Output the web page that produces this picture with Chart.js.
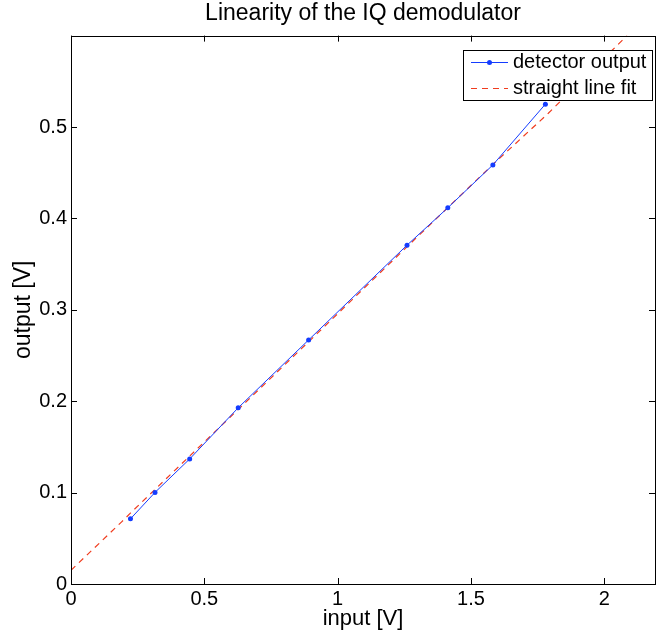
<!DOCTYPE html>
<html><head><meta charset="utf-8">
<script src="https://cdn.jsdelivr.net/npm/chart.js@4/dist/chart.umd.min.js"></script>
<style>html,body{margin:0;padding:0;background:#fff}#wrap{width:659px;height:634px;position:relative}</style>
</head><body><div id="wrap"><canvas id="c"></canvas></div>
<script>
const chartTitle = 'Linearity of the IQ demodulator';
const xAxisLabel = 'input [V]';
const yAxisLabel = 'output [V]';
const seriesNames = ['detector output', 'straight line fit'];
const inputV  = [0.223, 0.315, 0.445, 0.627, 0.891, 1.260, 1.413, 1.582, 1.779];
const outputV = [0.0713, 0.1002, 0.1368, 0.1928, 0.2670, 0.3707, 0.4116, 0.4585, 0.5250];
const fitX = [0, 0.19, 0.2227, 0.445, 0.891, 1.260, 1.582, 1.790, 2.085];
const fitY = [0.0150, 0.0680, 0.0775, 0.1400, 0.2650, 0.3690, 0.4590, 0.5150, 0.6000];
const xTicks = [0, 0.5, 1, 1.5, 2];
const yTicks = [0, 0.1, 0.2, 0.3, 0.4, 0.5];
const xRange = [0, 2.19];
const yRange = [0, 0.6];

const FONT = "'Liberation Sans', Arial, Helvetica, sans-serif";
const BLUE = 'rgb(20,60,255)';
const RED = 'rgb(240,60,30)';

const pts = (xs, ys) => xs.map((x, i) => ({x, y: ys[i]}));

const frame = {
  id: 'frame',
  afterDraw(chart) {
    const {ctx, chartArea: a, scales} = chart;
    ctx.save();
    ctx.strokeStyle = '#000';
    ctx.lineWidth = 1;
    ctx.beginPath();
    const TL = 6;
    scales.x.ticks.forEach(t => {
      const px = Math.round(scales.x.getPixelForValue(t.value)) + 0.5;
      ctx.moveTo(px, a.bottom); ctx.lineTo(px, a.bottom - TL);
      ctx.moveTo(px, a.top); ctx.lineTo(px, a.top + TL);
    });
    scales.y.ticks.forEach(t => {
      const py = Math.round(scales.y.getPixelForValue(t.value)) + 0.5;
      ctx.moveTo(a.left, py); ctx.lineTo(a.left + TL, py);
      ctx.moveTo(a.right, py); ctx.lineTo(a.right - TL, py);
    });
    ctx.stroke();
    ctx.strokeRect(Math.round(a.left) + 0.5, Math.round(a.top) + 0.5,
                   Math.round(a.right - a.left), Math.round(a.bottom - a.top));

    // legend
    const L = 463.5, T = 50.5, W = 189, H = 50;
    ctx.fillStyle = '#fff';
    ctx.fillRect(L, T, W, H);
    ctx.strokeRect(L, T, W, H);
    const rows = [62, 88];
    chart.data.datasets.forEach((ds, i) => {
      const y = rows[i] + 0.5;
      ctx.save();
      ctx.strokeStyle = ds.borderColor;
      ctx.lineWidth = 1;
      ctx.setLineDash(ds.borderDash || []);
      ctx.beginPath(); ctx.moveTo(471, y); ctx.lineTo(508, y); ctx.stroke();
      ctx.restore();
      if (ds.pointRadius > 0) {
        ctx.fillStyle = ds.pointBackgroundColor;
        ctx.beginPath(); ctx.arc(489.5, y, 2.5, 0, Math.PI * 2); ctx.fill();
      }
      ctx.fillStyle = '#000';
      ctx.font = '20px ' + FONT;
      ctx.textBaseline = 'middle';
      ctx.textAlign = 'left';
      ctx.fillText(ds.label, 513, rows[i]);
    });
    ctx.restore();
  }
};

new Chart(document.getElementById('c'), {
  type: 'scatter',
  data: {
    datasets: [
      {
        label: seriesNames[0],
        data: pts(inputV, outputV),
        showLine: true,
        borderColor: BLUE,
        borderWidth: 1,
        pointRadius: 2.5,
        pointBackgroundColor: BLUE,
        pointBorderColor: BLUE,
        pointBorderWidth: 0,
        order: 1
      },
      {
        label: seriesNames[1],
        data: pts(fitX, fitY),
        showLine: true,
        borderColor: RED,
        borderWidth: 1.2,
        borderDash: [6, 5],
        pointRadius: 0,
        order: 2
      }
    ]
  },
  options: {
    responsive: true,
    maintainAspectRatio: false,
    animation: false,
    layout: {padding: {left: 0, right: 1, top: 0, bottom: 0}},
    plugins: {
      legend: {display: false},
      tooltip: {enabled: false},
      title: {
        display: true,
        fullSize: false,
        text: chartTitle,
        color: '#000',
        font: {family: FONT, size: 23, weight: 'normal'},
        padding: {top: 0, bottom: 8}
      }
    },
    scales: {
      x: {
        type: 'linear',
        min: xRange[0], max: xRange[1],
        afterBuildTicks: s => { s.ticks = xTicks.map(v => ({value: v})); },
        afterFit: s => { s.height = 50; },
        grid: {display: false, drawTicks: false},
        border: {display: false},
        ticks: {color: '#000', font: {family: FONT, size: 20}, padding: 3, maxRotation: 0,
                callback: v => String(v)},
        title: {display: true, text: xAxisLabel, color: '#000',
                font: {family: FONT, size: 22}, padding: {top: 0, bottom: 2}}
      },
      y: {
        type: 'linear',
        min: yRange[0], max: yRange[1],
        afterBuildTicks: s => { s.ticks = yTicks.map(v => ({value: v})); },
        afterFit: s => { s.width = 71; },
        grid: {display: false, drawTicks: false},
        border: {display: false},
        ticks: {color: '#000', font: {family: FONT, size: 20}, padding: 4,
                callback: v => String(v)},
        title: {display: true, text: yAxisLabel, color: '#000',
                font: {family: FONT, size: 23}, padding: {top: 10, bottom: 0}}
      }
    }
  },
  plugins: [frame]
});
</script>
</body></html>
